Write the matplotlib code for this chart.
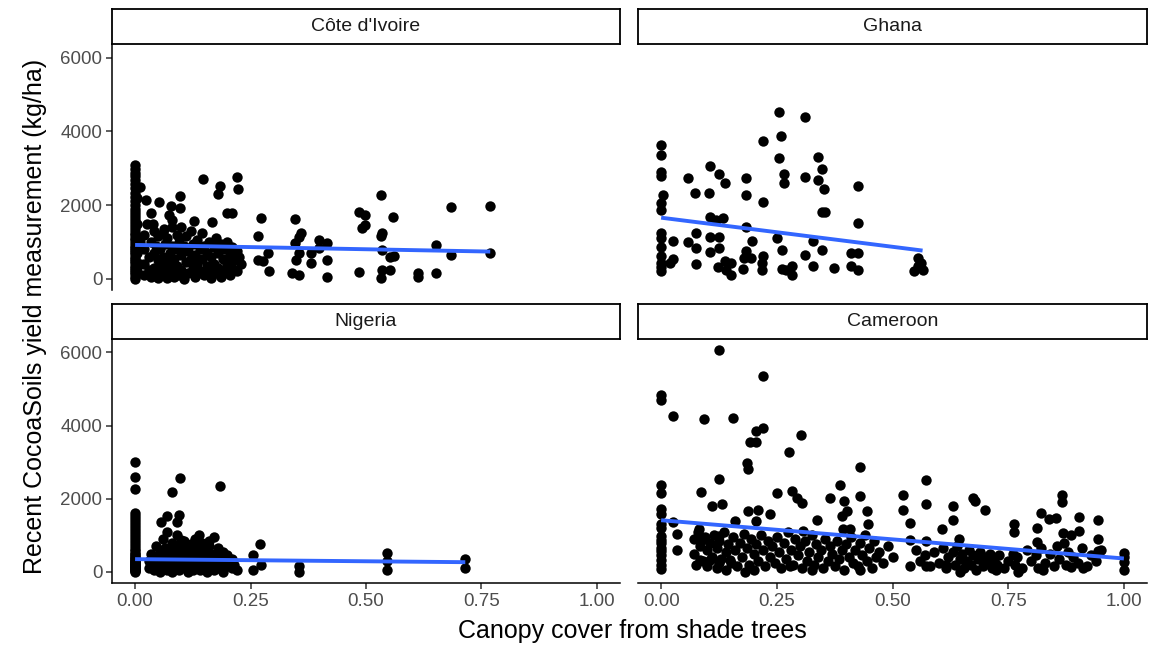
import matplotlib
matplotlib.use('Agg')
import matplotlib.pyplot as plt
import numpy as np

plt.rcParams['font.family'] = ['Liberation Sans', 'DejaVu Sans']

countries = ["Côte d'Ivoire", "Ghana", "Nigeria", "Cameroon"]

# ---------------- Côte d'Ivoire ----------------
ci_cover = [
    0, 0, 0, 0, 0, 0, 0, 0, 0, 0,
    0, 0, 0, 0, 0, 0, 0, 0, 0, 0,
    0, 0, 0, 0, 0, 0, 0, 0, 0, 0,
    0, 0, 0, 0, 0, 0, 0, 0, 0, 0,
    0.005, 0.005, 0.005, 0.005, 0.01, 0.01, 0.01,
    0.148, 0.184, 0.18, 0.22, 0.223, 0.097, 0.024, 0.052, 0.077, 0.098,
    0.034, 0.074, 0.198, 0.209, 0.127, 0.166, 0.038, 0.081, 0.063, 0.273,
    0.266, 0.347, 0.359, 0.484, 0.498, 0.491, 0.498, 0.532, 0.534, 0.532,
    0.559, 0.685, 0.769, 0.652, 0.685, 0.769, 0.612, 0.612, 0.652, 0.484,
    0.534, 0.532, 0.552, 0.552, 0.56, 0.534, 0.398, 0.416, 0.38, 0.416,
    0.416, 0.38, 0.398, 0.347, 0.355, 0.348, 0.34, 0.355, 0.355, 0.266,
    0.288, 0.29, 0.277,
    0.02, 0.02, 0.02, 0.02, 0.025, 0.03, 0.03, 0.035, 0.035, 0.04,
    0.04, 0.04, 0.045, 0.045, 0.05, 0.05, 0.05, 0.055, 0.055, 0.06,
    0.06, 0.06, 0.065, 0.065, 0.07, 0.07, 0.07, 0.075, 0.075, 0.08,
    0.08, 0.08, 0.085, 0.085, 0.09, 0.09, 0.09, 0.095, 0.095, 0.1,
    0.1, 0.1, 0.105, 0.105, 0.11, 0.11, 0.115, 0.115, 0.12, 0.12,
    0.125, 0.125, 0.13, 0.13, 0.135, 0.135, 0.14, 0.14, 0.145, 0.145,
    0.15, 0.15, 0.155, 0.155, 0.16, 0.16, 0.165, 0.165, 0.17, 0.17,
    0.175, 0.175, 0.18, 0.18, 0.185, 0.185, 0.19, 0.195, 0.195, 0.2,
    0.2, 0.205, 0.205, 0.21, 0.21, 0.215, 0.22, 0.22, 0.225, 0.23,
]
ci_yield = [
    3080, 2980, 2880, 2780, 2680, 2560, 2450, 2330, 2220, 2100,
    2000, 1900, 1800, 1720, 1640, 1560, 1480, 1400, 1320, 1250,
    1180, 1110, 1040, 970, 900, 840, 780, 720, 660, 600,
    540, 480, 420, 360, 300, 240, 180, 120, 60, 0,
    2200, 1500, 700, 200, 2500, 1000, 400,
    2720, 2520, 2300, 2770, 2430, 2240, 2135, 2070, 1980, 1910,
    1775, 1730, 1775, 1775, 1570, 1530, 1480, 1415, 1340, 1660,
    1170, 1610, 1250, 1820, 1730, 1370, 1460, 2270, 1250, 1160,
    1685, 1955, 1980, 920, 650, 690, 150, 60, 150, 180,
    240, 20, 240, 600, 620, 780, 1050, 960, 690, 510,
    60, 420, 830, 960, 690, 510, 150, 110, 1140, 510,
    690, 200, 470,
    1200, 800, 400, 100, 1500, 600, 250, 1000, 50, 1300,
    700, 300, 900, 150, 1150, 500, 20, 800, 350, 1250,
    600, 100, 950, 250, 1100, 450, 30, 700, 300, 1600,
    900, 150, 550, 50, 1200, 800, 350, 1000, 100, 1400,
    650, 250, 900, 0, 1150, 450, 750, 150, 1300, 550,
    950, 300, 650, 50, 1050, 400, 800, 200, 1250, 550,
    900, 100, 700, 350, 1000, 250, 600, 20, 850, 400,
    1100, 150, 700, 300, 950, 50, 550, 800, 200, 1000,
    400, 650, 100, 850, 300, 500, 750, 200, 600, 400,
]

# ---------------- Ghana ----------------
gh_cover = [
    0.255, 0.311, 0.259, 0.221, 0, 0, 0.255, 0.339, 0.348, 0,
    0, 0.105, 0.125, 0.139, 0.059, 0.183, 0.265, 0.265, 0.31, 0.339,
    0.353, 0.425, 0.074, 0.103, 0.183, 0.005, 0, 0, 0.22, 0.348,
    0.355, 0.105, 0.133, 0.119, 0.425, 0.183, 0, 0, 0.025, 0.058,
    0.076, 0.105, 0.125, 0.196, 0.251, 0.328, 0.076, 0.105, 0.125, 0,
    0, 0.183, 0.18, 0.194, 0.262, 0.348, 0.31, 0.41, 0.426, 0.22,
    0.025, 0.019, 0.076, 0.328, 0.373, 0.41, 0.425, 0, 0.123, 0.137,
    0.14, 0.151, 0.151, 0.176, 0.219, 0.219, 0.262, 0.269, 0.283, 0.283,
    0.555, 0.555, 0.565, 0.547, 0.562, 0, 0,
]
gh_yield = [
    4520, 4390, 3865, 3740, 3640, 3350, 3290, 3310, 2990, 2900,
    2780, 3050, 2830, 2600, 2740, 2740, 2840, 2600, 2770, 2680,
    2430, 2520, 2330, 2315, 2270, 2270, 2045, 1865, 2090, 1820,
    1800, 1685, 1660, 1595, 1505, 1415, 1250, 1100, 1035, 1010,
    1235, 1145, 1125, 1035, 1100, 1035, 830, 730, 830, 875,
    620, 765, 560, 560, 785, 785, 650, 695, 695, 620,
    530, 425, 405, 335, 290, 335, 245, 200, 315, 470,
    245, 110, 425, 260, 245, 425, 260, 245, 110, 335,
    560, 335, 245, 200, 425, 420, 330,
]

# ---------------- Nigeria ----------------
ng_cover = [
    0, 0, 0, 0, 0, 0, 0, 0, 0, 0,
    0, 0, 0, 0, 0, 0, 0, 0, 0, 0,
    0, 0, 0, 0, 0, 0, 0, 0, 0, 0,
    0, 0, 0, 0, 0, 0, 0, 0, 0, 0,
    0.097, 0.079, 0.184, 0.056, 0.069, 0.095, 0.091, 0.138, 0.159, 0.099,
    0.271, 0.256, 0.256, 0.273, 0.355, 0.355, 0.545, 0.545, 0.545, 0.715, 0.715,
    0.03, 0.03, 0.035, 0.035, 0.04, 0.04, 0.045, 0.045, 0.05, 0.05,
    0.055, 0.055, 0.06, 0.06, 0.06, 0.065, 0.065, 0.07, 0.07, 0.07,
    0.075, 0.075, 0.08, 0.08, 0.08, 0.085, 0.085, 0.09, 0.09, 0.09,
    0.095, 0.095, 0.1, 0.1, 0.1, 0.105, 0.105, 0.11, 0.11, 0.11,
    0.115, 0.115, 0.12, 0.12, 0.12, 0.125, 0.125, 0.13, 0.13, 0.13,
    0.135, 0.135, 0.14, 0.14, 0.14, 0.145, 0.145, 0.15, 0.15, 0.15,
    0.155, 0.155, 0.16, 0.16, 0.165, 0.165, 0.17, 0.17, 0.17, 0.175,
    0.175, 0.18, 0.18, 0.185, 0.185, 0.19, 0.19, 0.195, 0.2, 0.2,
    0.205, 0.21, 0.21, 0.215, 0.22,
]
ng_yield = [
    3010, 2600, 2260, 1600, 1520, 1440, 1360, 1280, 1200, 1120,
    1040, 960, 880, 800, 720, 640, 560, 480, 400, 330,
    260, 200, 140, 80, 20, 0, 50, 100, 150, 250,
    300, 180, 40, 90, 130, 210, 280, 350, 420, 500,
    2580, 2190, 2350, 1370, 1520, 1550, 1360, 1000, 835, 880,
    770, 470, 55, 190, 150, 10, 510, 285, 55, 350, 100,
    300, 100, 500, 200, 50, 400, 250, 700, 150, 350,
    0, 550, 900, 200, 450, 100, 650, 300, 1100, 50,
    500, 200, 800, 350, 0, 600, 150, 1000, 400, 250,
    700, 50, 500, 300, 150, 850, 400, 600, 100, 250,
    450, 0, 750, 350, 200, 550, 50, 900, 300, 150,
    650, 400, 200, 50, 500, 800, 300, 100, 600, 400,
    250, 0, 700, 350, 150, 500, 950, 300, 50, 450,
    200, 650, 100, 400, 250, 550, 0, 300, 150, 450,
    250, 100, 350, 200, 50,
]

# ---------------- Cameroon ----------------
cm_cover = [
    0.126, 0.221, 0, 0, 0.025, 0.093, 0.156, 0.221, 0.206, 0.192,
    0.206, 0.302, 0.276, 0.185, 0.188, 0.43, 0.126, 0.572, 0.386, 0,
    0, 0.086, 0.25, 0.282, 0.293, 0.304, 0.43, 0.365, 0.522, 0.674,
    0.678, 0.867, 0.867, 0.572, 0.631, 0.7, 0.396, 0.109, 0.131, 0,
    0, 0.188, 0.21, 0.235, 0.401, 0.39, 0.444, 0.522, 0.336, 0.822,
    0.838, 0.854, 0.903, 0.944, 0.631, 0.16, 0.205, 0.025, 0.537, 0.447,
    0.762, 0.762, 0.606, 0.812, 0.035, 0.081, 0.088, 0.126, 0.307, 0.394,
    0.408, 0.868, 0.886, 0.903, 0.944, 0.812, 0.644, 0.537, 0.572, 0,
    0, 0, 0, 0, 0.035, 0.083, 0.106, 0.126, 0.149, 0.181,
    0.278, 0.327, 0.43, 0.537, 0.572, 0.616, 0.645, 0.724, 0.771, 0.825,
    0.886, 0.911, 1.0, 1.0, 1.0, 1.0, 0.944,
    0, 0, 0, 0, 0, 0,
    0.07, 0.07, 0.075, 0.08, 0.085, 0.09, 0.095, 0.1, 0.1, 0.105,
    0.11, 0.115, 0.12, 0.12, 0.125, 0.13, 0.135, 0.14, 0.14, 0.145,
    0.15, 0.155, 0.16, 0.165, 0.17, 0.175, 0.18, 0.185, 0.19, 0.195,
    0.2, 0.2, 0.205, 0.21, 0.215, 0.22, 0.225, 0.23, 0.235, 0.24,
    0.245, 0.25, 0.255, 0.26, 0.265, 0.27, 0.275, 0.28, 0.285, 0.29,
    0.295, 0.3, 0.305, 0.31, 0.315, 0.32, 0.325, 0.33, 0.335, 0.34,
    0.345, 0.35, 0.355, 0.36, 0.365, 0.37, 0.375, 0.38, 0.385, 0.39,
    0.395, 0.4, 0.405, 0.41, 0.415, 0.42, 0.425, 0.43, 0.435, 0.44,
    0.445, 0.45, 0.455, 0.46, 0.465, 0.47, 0.48, 0.49, 0.5,
    0.55, 0.56, 0.57, 0.58, 0.59, 0.6, 0.61, 0.615, 0.62, 0.63,
    0.635, 0.64, 0.645, 0.65, 0.655, 0.66, 0.665, 0.67, 0.675, 0.68,
    0.685, 0.69, 0.695, 0.7, 0.705, 0.71, 0.715, 0.72, 0.725, 0.73,
    0.74, 0.75, 0.76, 0.765, 0.77, 0.78, 0.79, 0.8, 0.81, 0.815,
    0.82, 0.83, 0.84, 0.85, 0.855, 0.86, 0.87, 0.875, 0.88, 0.89,
    0.9, 0.91, 0.92, 0.93, 0.94, 0.95,
]
cm_yield = [
    6065, 5360, 4830, 4690, 4260, 4180, 4210, 3930, 3860, 3540,
    3540, 3740, 3270, 2990, 2810, 2880, 2550, 2500, 2370, 2370,
    2150, 2180, 2170, 2210, 2030, 1890, 2070, 2030, 2090, 2030,
    1940, 2100, 1910, 1860, 1800, 1680, 1940, 1800, 1860, 1710,
    1570, 1660, 1680, 1590, 1660, 1520, 1660, 1680, 1430, 1610,
    1460, 1480, 1500, 1410, 1410, 1400, 1400, 1370, 1340, 1320,
    1320, 1080, 1170, 1200, 1050, 1160, 880, 990, 1110, 1160,
    1160, 1060, 1020, 1110, 900, 810, 900, 860, 850, 970,
    790, 560, 330, 70, 610, 330, 330, 240, 330, 10,
    150, 40, 40, 170, 150, 190, 10, 55, 10, 40,
    130, 100, 510, 280, 55, 400, 560,
    1300, 1200, 880, 650, 450, 200,
    900, 500, 200, 1100, 700, 300, 950, 600, 150, 800,
    400, 1000, 650, 100, 850, 350, 1100, 550, 50, 750,
    250, 950, 600, 150, 800, 400, 1050, 650, 200, 900,
    500, 50, 750, 300, 1000, 600, 150, 850, 400, 700,
    250, 950, 550, 100, 800, 350, 1100, 600, 200, 900,
    450, 700, 100, 850, 300, 550, 1000, 200, 750, 400,
    600, 100, 900, 300, 700, 500, 150, 850, 350, 600,
    50, 750, 400, 950, 250, 600, 150, 800, 450, 1000,
    300, 650, 100, 850, 400, 550, 250, 700, 400,
    600, 300, 450, 150, 550, 250, 650, 100, 400, 550,
    200, 700, 350, 500, 100, 300, 600, 200, 450, 50,
    350, 550, 150, 400, 250, 500, 100, 350, 200, 450,
    100, 300, 500, 200, 400, 100, 600, 300, 450, 100,
    650, 250, 500, 150, 700, 350, 800, 200, 550, 400,
    250, 650, 150, 450, 300, 600,
]

# Linear-fit values (yield at min / max cover)
fit_start = [919, 1658, 349, 1413]
fit_end = [739, 766, 266, 367]

x_ticks = [0.0, 0.25, 0.5, 0.75, 1.0]
x_tick_labels = ["0.00", "0.25", "0.50", "0.75", "1.00"]
y_ticks = [0, 2000, 4000, 6000]

covers = [ci_cover, gh_cover, ng_cover, cm_cover]
yields = [ci_yield, gh_yield, ng_yield, cm_yield]

W, H = 1168, 645
fig = plt.figure(figsize=(W / 100, H / 100), dpi=100)


def rect(x0, y0, x1, y1):
    return [x0 / W, 1 - y1 / H, (x1 - x0) / W, (y1 - y0) / H]


panel_px = [(112, 44, 620, 290), (638, 44, 1147, 290),
            (112, 339, 620, 583), (638, 339, 1147, 583)]
strip_px = [(112, 9, 620, 44), (638, 9, 1147, 44),
            (112, 304, 620, 339), (638, 304, 1147, 339)]

all_x = np.concatenate([np.asarray(c, float) for c in covers])
all_y = np.concatenate([np.asarray(v, float) for v in yields])
xr = all_x.max() - all_x.min()
yr = all_y.max() - all_y.min()
xlim = (all_x.min() - 0.05 * xr, all_x.max() + 0.05 * xr)
ylim = (all_y.min() - 0.05 * yr, all_y.max() + 0.05 * yr)

tick_color = '#333333'
label_color = '#4D4D4D'
line_w = 1.1

for i, name in enumerate(countries):
    ax = fig.add_axes(rect(*panel_px[i]))
    x = np.asarray(covers[i], float)
    y = np.asarray(yields[i], float)
    ax.scatter(x, y, s=56, color='black', linewidths=0, zorder=2)
    xs = [x.min(), x.max()]
    ax.plot(xs, [fit_start[i], fit_end[i]], color='#3366FF', lw=2.8,
            solid_capstyle='butt', zorder=3)
    ax.set_xlim(*xlim)
    ax.set_ylim(*ylim)
    ax.set_xticks(x_ticks)
    ax.set_xticklabels(x_tick_labels)
    ax.set_yticks(y_ticks)
    ax.set_yticklabels([str(v) for v in y_ticks])
    for s in ['top', 'right']:
        ax.spines[s].set_visible(False)
    bottom_row = i >= 2
    left_col = i % 2 == 0
    ax.spines['bottom'].set_visible(bottom_row)
    ax.spines['left'].set_visible(left_col)
    for s in ['bottom', 'left']:
        ax.spines[s].set_linewidth(line_w)
        ax.spines[s].set_color('black')
    ax.tick_params(axis='both', length=4, width=line_w, color=tick_color,
                   labelcolor=label_color, labelsize=13.5, pad=3)
    if not bottom_row:
        ax.tick_params(axis='x', bottom=False, labelbottom=False)
    if not left_col:
        ax.tick_params(axis='y', left=False, labelleft=False)
    ax.set_facecolor('white')

    sx = fig.add_axes(rect(*strip_px[i]))
    sx.set_xticks([])
    sx.set_yticks([])
    sx.set_facecolor('white')
    for s in sx.spines.values():
        s.set_linewidth(1.3)
        s.set_color('black')
    sx.text(0.5, 0.5, name, ha='center', va='center', fontsize=14,
            color='#1A1A1A', transform=sx.transAxes)

fig.text(35 / W, 1 - 316 / H, 'Recent CocoaSoils yield measurement (kg/ha)',
         rotation=90, ha='center', va='center', fontsize=18, color='black')
fig.text(632 / W, 1 - 631 / H, 'Canopy cover from shade trees',
         ha='center', va='center', fontsize=18, color='black')

fig.savefig('out.png', dpi=100, facecolor='white')
